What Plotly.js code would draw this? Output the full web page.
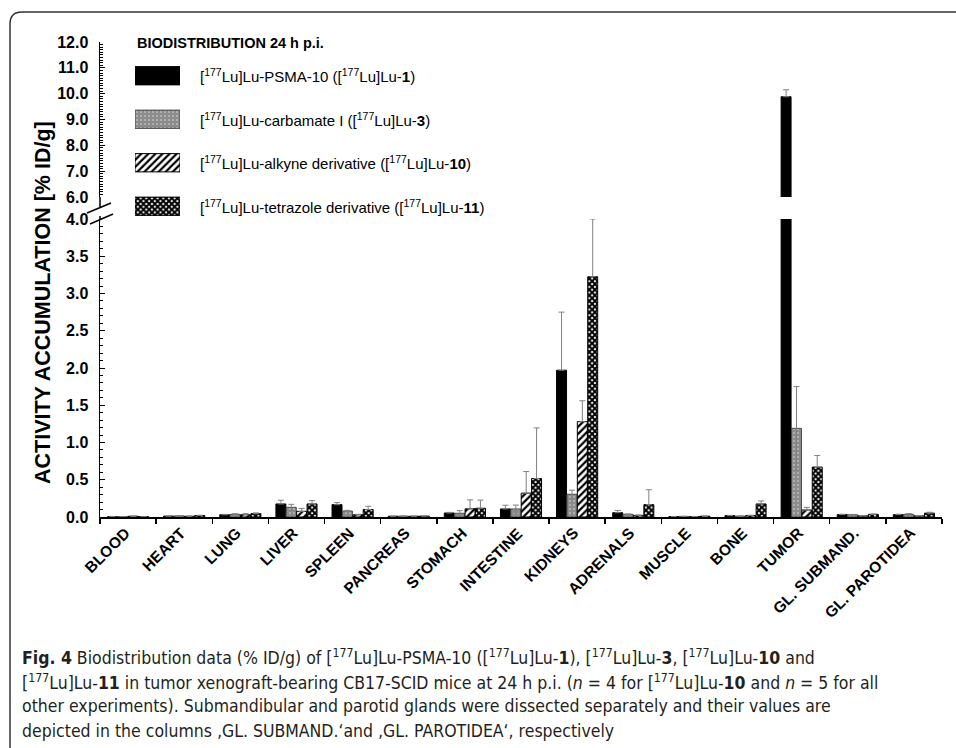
<!DOCTYPE html>
<html><head><meta charset="utf-8">
<script src="https://cdn.plot.ly/plotly-3.0.1.min.js"></script>
<style>html,body{margin:0;padding:0;background:#fff}</style>
</head><body>
<div id="chart" style="width:956px;height:748px"></div>
<script>
// ---------- DATA ----------
const organs = ['BLOOD','HEART','LUNG','LIVER','SPLEEN','PANCREAS','STOMACH','INTESTINE','KIDNEYS','ADRENALS','MUSCLE','BONE','TUMOR','GL. SUBMAND.','GL. PAROTIDEA'];
const seriesNames = [
  '[<sup>177</sup>Lu]Lu-PSMA-10 ([<sup>177</sup>Lu]Lu-<b>1</b>)',
  '[<sup>177</sup>Lu]Lu-carbamate I ([<sup>177</sup>Lu]Lu-<b>3</b>)',
  '[<sup>177</sup>Lu]Lu-alkyne derivative ([<sup>177</sup>Lu]Lu-<b>10</b>)',
  '[<sup>177</sup>Lu]Lu-tetrazole derivative ([<sup>177</sup>Lu]Lu-<b>11</b>)'
];
const psma10       = [0.003,0.012,0.030,0.175,0.166,0.010,0.054,0.108,1.97,0.058,0.004,0.018,9.88,0.032,0.032];
const psma10Err    = [0.001,0.002,0.005,0.050,0.027,0.002,0.008,0.050,0.78,0.030,0.001,0.004,0.27,0.005,0.005];
const carbamate    = [0.004,0.015,0.036,0.130,0.080,0.012,0.050,0.108,0.305,0.036,0.008,0.012,1.19,0.030,0.036];
const carbamateErr = [0.001,0.003,0.008,0.040,0.010,0.002,0.035,0.052,0.055,0.006,0.002,0.003,0.56,0.005,0.010];
const alkyne       = [0.010,0.010,0.030,0.076,0.030,0.010,0.110,0.320,1.28,0.022,0.004,0.020,0.094,0.015,0.015];
const alkyneErr    = [0.002,0.002,0.015,0.040,0.006,0.002,0.120,0.290,0.28,0.005,0.001,0.004,0.035,0.003,0.003];
const tetrazole    = [0.004,0.020,0.045,0.175,0.100,0.012,0.117,0.516,3.225,0.166,0.010,0.175,0.67,0.035,0.052];
const tetrazoleErr = [0.001,0.004,0.010,0.045,0.044,0.002,0.110,0.680,0.775,0.200,0.002,0.040,0.155,0.005,0.012];
const lowerTickVals = [0,0.5,1,1.5,2,2.5,3,3.5,4];
const lowerTickText = ['0.0','0.5','1.0','1.5','2.0','2.5','3.0','3.5','4.0'];
const upperTickVals = [6,7,8,9,10,11,12];
const upperTickText = ['6.0','7.0','8.0','9.0','10.0','11.0','12.0'];
const legendTitle = 'BIODISTRIBUTION 24 h p.i.';
const yTitle = 'ACTIVITY ACCUMULATION [% ID/g]';
const captionLines = [
  '<b>Fig. 4</b> Biodistribution data (% ID/g) of [<sup>177</sup>Lu]Lu-PSMA-10 ([<sup>177</sup>Lu]Lu-<b>1</b>), [<sup>177</sup>Lu]Lu-<b>3</b>, [<sup>177</sup>Lu]Lu-<b>10</b> and',
  '[<sup>177</sup>Lu]Lu-<b>11</b> in tumor xenograft-bearing CB17-SCID mice at 24 h p.i. (<i>n</i> = 4 for [<sup>177</sup>Lu]Lu-<b>10</b> and <i>n</i> = 5 for all',
  'other experiments). Submandibular and parotid glands were dissected separately and their values are',
  'depicted in the columns \u201AGL. SUBMAND.\u2018and \u201AGL. PAROTIDEA\u2018, respectively'
];

// ---------- STYLE ----------
const W = 956, H = 748;
const PX = x => x / W;
const PY = y => 1 - y / H;
const FONT = 'Liberation Sans, Arial, sans-serif';
const CAPFONT = 'Liberation Sans Narrow, DejaVu Sans Condensed, Arial Narrow, sans-serif';

const values = [psma10, carbamate, alkyne, tetrazole];
const errors = [psma10Err, carbamateErr, alkyneErr, tetrazoleErr];
const styles = [
  {color:'#000000', line:'#000000', pattern:{shape:''}, sym:false},
  {color:'#8c8c8c', line:'#4a4a4a', pattern:{shape:'.', bgcolor:'#8c8c8c', fgcolor:'#e0e0e0', size:4, solidity:0.12}, sym:true},
  {color:'#ffffff', line:'#000000', pattern:{shape:'/', bgcolor:'#ffffff', fgcolor:'#000000', size:5, solidity:0.45}, sym:false},
  {color:'#ffffff', line:'#000000', pattern:{shape:'x', bgcolor:'#ffffff', fgcolor:'#000000', size:4, solidity:0.75}, sym:false}
];

const traces = [];
['', '2'].forEach(sfx => {
  values.forEach((vals, i) => {
    const st = styles[i];
    const err = {type:'data', array: errors[i], visible:true, color:'#808080', thickness:1, width:3};
    if (!st.sym) { err.symmetric = false; err.arrayminus = errors[i].map(() => 0); }
    traces.push({
      type:'bar', x: organs, y: vals, name: seriesNames[i],
      xaxis: 'x' + sfx, yaxis: 'y' + sfx, showlegend:false,
      marker:{color: st.color, line:{color: st.line, width:1}, pattern: st.pattern},
      error_y: err, hoverinfo:'x+y'
    });
  });
});

// legend key swatches (one per series)
seriesNames.forEach((n, i) => {
  const st = styles[i];
  traces.push({
    type:'bar', orientation:'h', x:[1], y:[i], base:0, width:0.42, offset:-0.21,
    xaxis:'x3', yaxis:'y3', showlegend:false, hoverinfo:'skip', name: n,
    marker:{color: st.color, line:{color: st.line, width:1}, pattern: st.pattern}
  });
});

const tickFont = {family: FONT, size: 16, color:'#000', weight: 700};
const yCommon = {
  showline:true, linecolor:'#000', linewidth:1.5, ticks:'inside', ticklen:5, tickwidth:1, tickcolor:'#000',
  tickfont: tickFont, showgrid:false, zeroline:false, ticklabelstandoff: 7, fixedrange:true
};

const annotations = [];
// category labels, rotated
organs.forEach(o => {
  annotations.push({xref:'x', yref:'paper', x: o, y: PY(523), text: '<b>' + o + '</b>', textangle:-45,
    showarrow:false, xanchor:'right', yanchor:'top', xshift:6, borderpad:0,
    font:{family:FONT, size:15.5, color:'#000'}});
});
annotations.push({xref:'paper', yref:'paper', x: PX(43), y: PY(303), text: '<b>' + yTitle + '</b>',
  textangle:-90, showarrow:false, font:{family:FONT, size:21.5, color:'#000'}, xanchor:'center', yanchor:'middle'});
annotations.push({xref:'paper', yref:'paper', x: PX(135), y: PY(43), text: '<b>' + legendTitle + '</b>',
  showarrow:false, font:{family:FONT, size:14.5, color:'#000'}, xanchor:'left', yanchor:'middle'});
seriesNames.forEach((n, i) => {
  annotations.push({xref:'paper', yref:'y3', x: PX(198), y: i, text: n, showarrow:false,
    font:{family:FONT, size:15, color:'#000'}, xanchor:'left', yanchor:'middle'});
});
const capY = [657, 682, 706, 731];
captionLines.forEach((t, i) => {
  annotations.push({xref:'paper', yref:'paper', x: PX(20), y: PY(capY[i]), text: t, showarrow:false,
    font:{family:CAPFONT, size:17.5, color:'#231f20'}, xanchor:'left', yanchor:'middle', align:'left'});
});

const shapes = [
  {type:'path', xref:'paper', yref:'paper',
   path: `M${PX(10)},${PY(748)} L${PX(10)},${PY(24)} Q${PX(10)},${PY(12)} ${PX(22)},${PY(12)} L1,${PY(12)}`,
   line:{color:'#333', width:1.5}},
  {type:'line', xref:'paper', yref:'paper', x0:PX(87), y0:PY(213), x1:PX(111), y1:PY(203), line:{color:'#000', width:1.5}},
  {type:'line', xref:'paper', yref:'paper', x0:PX(90), y0:PY(224), x1:PX(113), y1:PY(214), line:{color:'#000', width:1.5}},
  {type:'line', xref:'paper', yref:'paper', x0:PX(100), y0:PY(197), x1:PX(100), y1:PY(207), line:{color:'#000', width:1.5}},
  {type:'line', xref:'paper', yref:'paper', x0:PX(100), y0:PY(216), x1:PX(100), y1:PY(219), line:{color:'#000', width:1.5}}
];

const xRange = [-0.5, organs.length - 0.5];
const layout = {
  width: W, height: H, margin:{l:0, r:0, t:0, b:0}, paper_bgcolor:'#fff', plot_bgcolor:'rgba(0,0,0,0)',
  barmode:'group', bargap:0.26, bargroupgap:0.04, showlegend:false,
  font:{family:FONT, color:'#000'},
  xaxis:{domain:[PX(100), PX(942)], anchor:'y', type:'category', range: xRange, autorange:false,
    showline:true, linecolor:'#000', linewidth:1.5,
    ticks:'outside', tickson:'boundaries', ticklen:5, tickwidth:1.5, tickcolor:'#000',
    showticklabels:false, showgrid:false, zeroline:false, fixedrange:true},
  xaxis2:{domain:[PX(100), PX(942)], anchor:'y2', type:'category', range: xRange, autorange:false, visible:false, fixedrange:true},
  yaxis: Object.assign({}, yCommon, {domain:[PY(517), PY(219)], anchor:'x', range:[0,4], autorange:false,
    tickmode:'array', tickvals: lowerTickVals, ticktext: lowerTickText,
    minor:{tickmode:'linear', tick0:0, dtick:0.1, ticks:'inside', ticklen:3, tickwidth:1, tickcolor:'#000'}}),
  yaxis2: Object.assign({}, yCommon, {domain:[PY(197), PY(42)], anchor:'x2', range:[6,12], autorange:false,
    tickmode:'array', tickvals: upperTickVals, ticktext: upperTickText,
    minor:{tickmode:'linear', tick0:0, dtick:0.1, ticks:'inside', ticklen:3, tickwidth:1, tickcolor:'#000'}}),
  xaxis3:{domain:[PX(135), PX(180)], anchor:'y3', range:[0,1], visible:false, fixedrange:true},
  yaxis3:{domain:[PY(228), PY(54)], anchor:'x3', range:[3.5,-0.5], visible:false, fixedrange:true},
  annotations, shapes
};

Plotly.newPlot('chart', traces, layout, {staticPlot:true, displayModeBar:false});
</script>
</body></html>
